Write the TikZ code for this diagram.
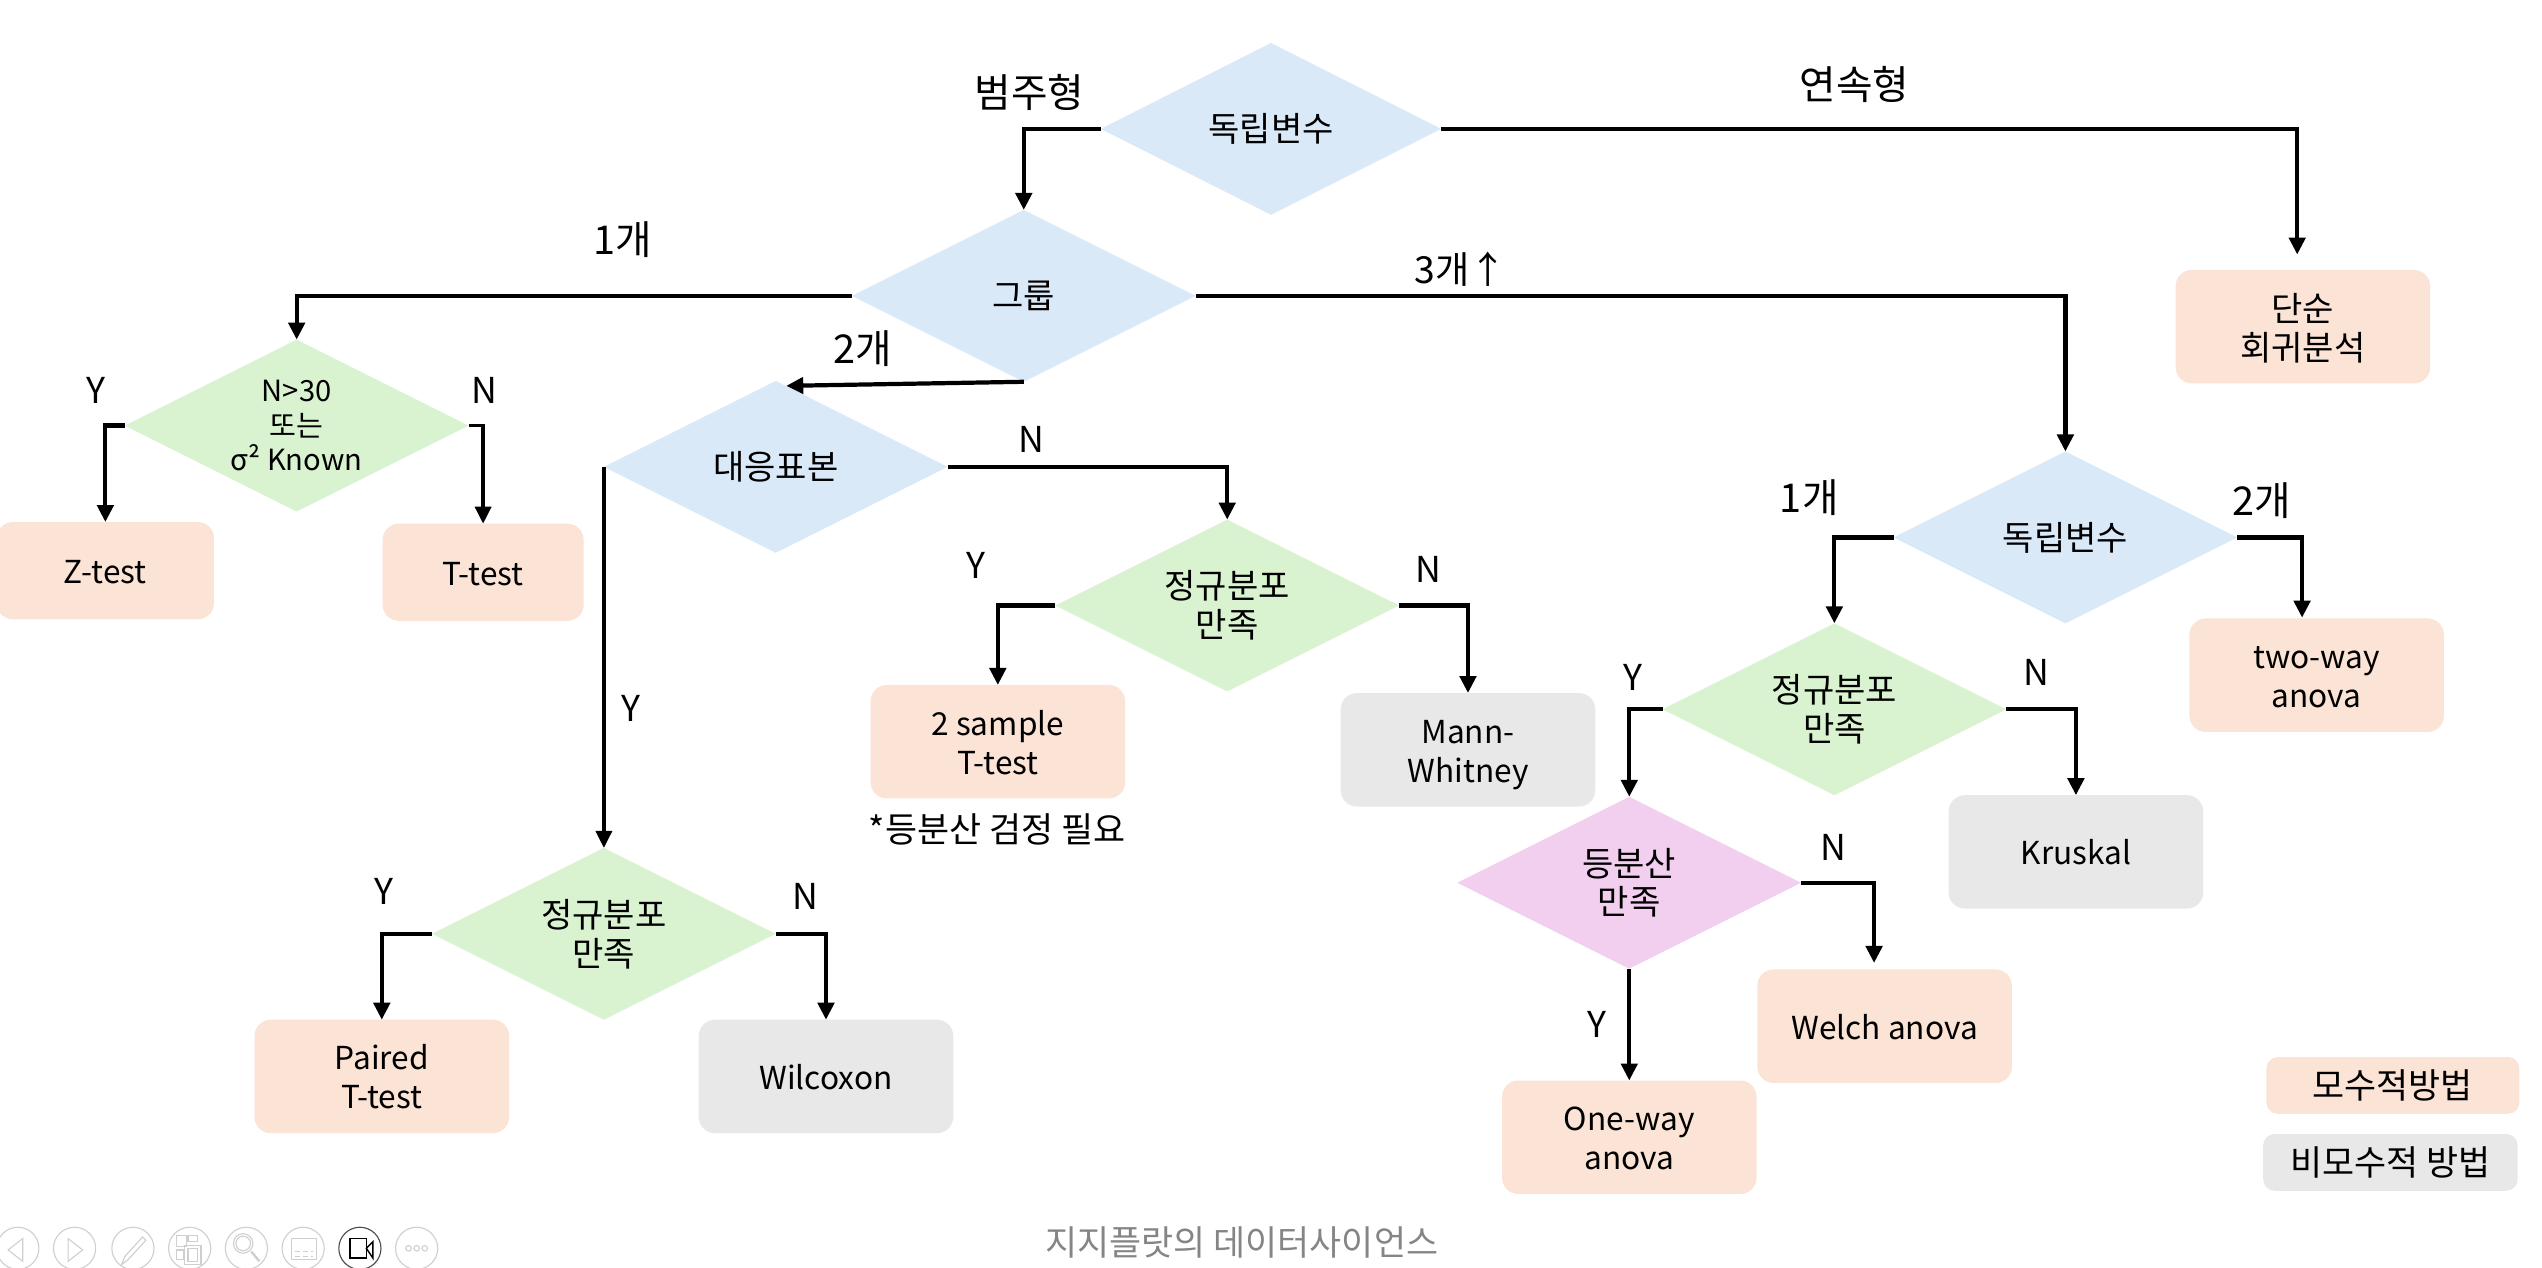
\documentclass[tikz,border=0pt]{standalone}
\usepackage{fontspec}
\setmainfont{Noto Sans CJK KR}
\usetikzlibrary{shapes.geometric,arrows.meta}
\definecolor{choiceblue}{HTML}{DAE9F8}
\definecolor{choicegreen}{HTML}{D9F2D0}
\definecolor{choicepink}{HTML}{F2CEEF}
\definecolor{parampeach}{HTML}{FBE3D6}
\definecolor{nonparamgray}{HTML}{E8E8E8}
\definecolor{markgray}{HTML}{858585}
\definecolor{iconline}{HTML}{CFCFCF}
\begin{document}
\begin{tikzpicture}[x=1pt,y=-1pt]
\tikzset{choice/.style={diamond,shape aspect=2,inner sep=0pt,outer sep=0pt,minimum width=212pt,minimum height=106pt,align=center,font=\fontsize{21}{24}\selectfont},
  result/.style={rounded corners=10pt,inner sep=0pt,outer sep=0pt,minimum width=157pt,minimum height=70pt,align=center,text height=16pt,text depth=0pt,font=\fontsize{19.5}{24}\selectfont},
  tworow/.style={result,text height=40pt},
  legendbox/.style={rounded corners=7pt,inner sep=0pt,minimum width=156pt,minimum height=35pt,font=\fontsize{21.5}{24}\selectfont},
  lbl/.style={inner sep=0pt,font=\fontsize{22}{26}\selectfont},
  wordlbl/.style={inner sep=0pt,font=\fontsize{24.5}{28}\selectfont},
  link/.style={line width=2.6pt,-{Triangle[length=10.5pt,width=10pt]}},
  thinlink/.style={line width=2pt,-{Triangle[length=10.5pt,width=10pt]}},
  icon/.style={iconline,line width=0.7pt}}
\useasboundingbox (0,0) rectangle (1568,782);
\node[choice,fill=choiceblue,minimum width=210pt] (var) at (784,79.5) {독립변수};
\node[choice,fill=choiceblue] (group) at (631.5,182.5) {그룹};
\node[choice,fill=choiceblue] (pair) at (478.5,288) {대응표본};
\node[choice,fill=choicegreen,font=\fontsize{18}{21.5}\selectfont] (known) at (183,262.5) {N>30\\또는\\σ² Known};
\node[choice,fill=choicegreen] (normtwo) at (757,373.5) {정규분포\\만족};
\node[choice,fill=choicegreen] (normpair) at (372.5,576) {정규분포\\만족};
\node[choice,fill=choiceblue] (vartwo) at (1274,331.5) {독립변수};
\node[choice,fill=choicegreen] (normmany) at (1131.5,437.5) {정규분포\\만족};
\node[choice,fill=choicepink] (equal) at (1005,544.5) {등분산\\만족};
\node[tworow,fill=parampeach,text height=42pt,font=\fontsize{21}{24}\selectfont] (regress) at (1420.5,201.5) {단순\\회귀분석};
\node[result,fill=parampeach,minimum width=134pt,minimum height=60pt] (ztest) at (65,352) {Z-test};
\node[result,fill=parampeach,minimum width=124pt,minimum height=60pt] (ttest) at (298,353) {T-test};
\node[tworow,fill=parampeach] (twoway) at (1429,416.5) {two-way\\anova};
\node[tworow,fill=parampeach] (sampletwo) at (615.5,457.5) {2 sample\\T-test};
\node[tworow,fill=nonparamgray] (mann) at (905.5,462.5) {Mann-\\Whitney};
\node[result,fill=nonparamgray] (kruskal) at (1280.5,525.5) {Kruskal};
\node[result,fill=parampeach] (welch) at (1162.5,633) {Welch anova};
\node[tworow,fill=parampeach] (oneway) at (1005,701.5) {One-way\\anova};
\node[tworow,fill=parampeach] (pairedt) at (235.5,664) {Paired\\T-test};
\node[result,fill=nonparamgray] (wilcoxon) at (509.5,664) {Wilcoxon};
\node[legendbox,fill=parampeach] (param) at (1476,669.5) {모수적방법};
\node[legendbox,fill=nonparamgray,minimum width=157pt] (nonparam) at (1474.5,717) {비모수적 방법};
\coordinate (regressin) at (1417,157);
\coordinate (twowayin) at (1420,381);
\coordinate (welchin) at (1156,594);
\coordinate (pairin) at (485,238);
\draw[link] (var.west) -| (group.north);
\draw[link] (var.east) -| (regressin);
\draw[link] (group.west) -| (known.north);
\draw[link] (group.south) -- (pairin);
\draw[link] (group.east) -| (vartwo.north);
\draw[link] (known.west) -| (ztest.north);
\draw[thinlink] (known.east) -| (ttest.north);
\draw[link] (pair.east) -| (normtwo.north);
\draw[thinlink] (pair.west) -- (normpair.north);
\draw[link] (normtwo.west) -| (sampletwo.north);
\draw[link] (normtwo.east) -| (mann.north);
\draw[link] (normpair.west) -| (pairedt.north);
\draw[link] (normpair.east) -| (wilcoxon.north);
\draw[link] (vartwo.west) -| (normmany.north);
\draw[link] (vartwo.east) -| (twowayin);
\draw[link] (normmany.west) -| (equal.north);
\draw[link] (normmany.east) -| (kruskal.north);
\draw[link] (equal.east) -| (welchin);
\draw[link] (equal.south) -- (oneway.north);
\node[wordlbl] (catlbl) at (635,57) {범주형};
\node[wordlbl] (conlbl) at (1144,52) {연속형};
\node[wordlbl] (onelbl) at (384,148) {1개};
\node[wordlbl,font=\fontsize{23}{26}\selectfont] (threelbl) at (901,166) {3개↑};
\node[wordlbl] (twolbl) at (532,215) {2개};
\node[lbl] (knowny) at (59,241) {Y};
\node[lbl] (knownn) at (299,241) {N};
\node[lbl] (pairn) at (636,271) {N};
\node[lbl] (pairy) at (389,437) {Y};
\node[lbl] (normtwoy) at (602,349) {Y};
\node[lbl] (normtwon) at (881,351) {N};
\node[lbl] (normpairy) at (237,550) {Y};
\node[lbl] (normpairn) at (497,553) {N};
\node[wordlbl] (varone) at (1116,307) {1개};
\node[wordlbl] (varmany) at (1395,309) {2개};
\node[lbl] (normmanyy) at (1007,418) {Y};
\node[lbl] (normmanyn) at (1256,415) {N};
\node[lbl] (equaln) at (1131,523) {N};
\node[lbl] (equaly) at (985,632) {Y};
\node[lbl,font=\fontsize{21.5}{24}\selectfont] (note) at (615,511.5) {*등분산 검정 필요};
\node[lbl,font=\fontsize{21.5}{24}\selectfont,text=markgray] (mark) at (766,766.5) {지지플랏의 데이터사이언스};
\foreach \cx in {11,46,82,117,152,187,257}
  \draw[icon] (\cx,770) circle (13);
\draw[black!70,line width=0.7pt] (222,770) circle (13);
\draw[icon] (14,764) -- (5,771) -- (14,778) -- cycle;
\draw[icon] (42,764) -- (51,771) -- (42,778) -- cycle;
\draw[icon] (75,780) -- (77,775) -- (88,763) -- (90,765) -- (79,777) -- cycle;
\draw[icon] (109,762) rectangle (115,769) (116,762) rectangle (122,766) (109,771) rectangle (113,777) (114,768) rectangle (124,780) (116,770) rectangle (122,778);
\draw[icon] (150,767) circle (6) (150,767) circle (4.5);
\draw[icon,line width=1.5pt] (155,772) -- (160,778);
\draw[icon] (180,764) rectangle (195,777);
\draw[icon,densely dashed] (182,772) -- (193,772) (182,775) -- (193,775);
\draw[black,line width=0.9pt] (216,764) rectangle (226,776);
\draw[black,line width=0.9pt] (226,770) -- (230,766) -- (230,776) -- cycle;
\draw[icon] (252,770) circle (1.7) (257,770) circle (1.7) (262,770) circle (1.7);
\end{tikzpicture}
\end{document}
